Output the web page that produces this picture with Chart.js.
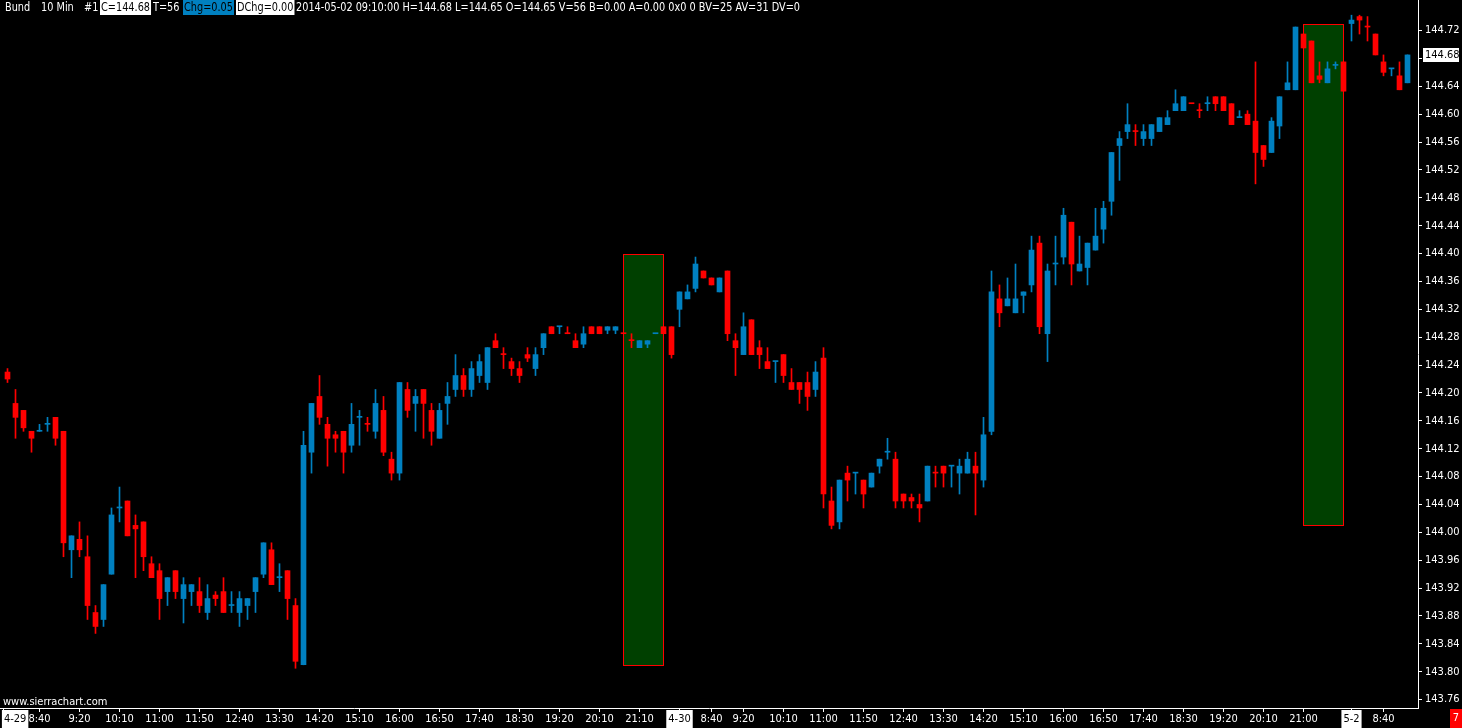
<!DOCTYPE html>
<html>
<head>
<meta charset="utf-8">
<title>Bund 10 Min</title>
<script src="https://cdn.jsdelivr.net/npm/chart.js@4.4.1/dist/chart.umd.min.js"></script>
<style>
  html, body { margin: 0; padding: 0; background: #000; overflow: hidden; }
</style>
</head>
<body>
<canvas id="chart_bund" width="1462" height="728"></canvas>
<script>
// 10 min bars, 4-29 08:00 .. 5-2 09:10 (bar index = position on the x axis)
const opens = [
  144.23, 144.185, 144.175, 144.145, 144.145, 144.155, 144.165, 144.145, 143.975, 143.99,
  143.965, 143.885, 143.875, 143.94, 144.035, 144.045, 144.01, 144.015, 143.955, 143.945,
  143.915, 143.945, 143.905, 143.915, 143.915, 143.885, 143.91, 143.915, 143.895, 143.885,
  143.895, 143.915, 143.94, 143.975, 143.935, 143.945, 143.895, 143.81, 144.115, 144.195,
  144.155, 144.14, 144.145, 144.125, 144.165, 144.155, 144.145, 144.175, 144.105, 144.085,
  144.205, 144.185, 144.205, 144.175, 144.135, 144.185, 144.205, 144.225, 144.205, 144.225,
  144.215, 144.275, 144.255, 144.245, 144.235, 144.255, 144.235, 144.265, 144.295, 144.295,
  144.285, 144.275, 144.27, 144.295, 144.295, 144.29, 144.29, 144.285, 144.275, 144.265,
  144.27, 144.285, 144.295, 144.295, 144.32, 144.335, 144.35, 144.375, 144.365, 144.345,
  144.375, 144.275, 144.255, 144.305, 144.265, 144.245, 144.245, 144.255, 144.215, 144.215,
  144.215, 144.205, 144.25, 144.045, 144.015, 144.085, 144.085, 144.075, 144.065, 144.095,
  144.115, 144.105, 144.055, 144.05, 144.04, 144.045, 144.085, 144.095, 144.095, 144.085,
  144.085, 144.095, 144.075, 144.145, 144.335, 144.325, 144.315, 144.34, 144.355, 144.415,
  144.285, 144.385, 144.395, 144.445, 144.375, 144.38, 144.405, 144.435, 144.475, 144.555,
  144.575, 144.575, 144.565, 144.565, 144.575, 144.585, 144.605, 144.605, 144.615, 144.605,
  144.615, 144.625, 144.625, 144.615, 144.595, 144.60, 144.59, 144.555, 144.545, 144.583,
  144.635, 144.635, 144.715, 144.705, 144.655, 144.645, 144.67, 144.675, 144.73, 144.74,
  144.725, 144.715, 144.675, 144.665, 144.655, 144.645
];
const highs = [
  144.235, 144.205, 144.175, 144.145, 144.155, 144.165, 144.165, 144.145, 143.995, 144.015,
  143.995, 143.895, 143.925, 144.035, 144.065, 144.045, 144.025, 144.015, 143.965, 143.955,
  143.935, 143.945, 143.935, 143.925, 143.935, 143.925, 143.915, 143.935, 143.915, 143.915,
  143.905, 143.935, 143.985, 143.985, 143.955, 143.945, 143.905, 144.145, 144.185, 144.225,
  144.165, 144.145, 144.145, 144.185, 144.175, 144.165, 144.205, 144.195, 144.115, 144.215,
  144.215, 144.205, 144.205, 144.185, 144.185, 144.215, 144.255, 144.235, 144.245, 144.255,
  144.265, 144.285, 144.265, 144.25, 144.245, 144.265, 144.265, 144.285, 144.295, 144.295,
  144.295, 144.285, 144.295, 144.295, 144.295, 144.295, 144.295, 144.285, 144.285, 144.275,
  144.275, 144.285, 144.295, 144.295, 144.345, 144.355, 144.395, 144.375, 144.365, 144.365,
  144.375, 144.285, 144.315, 144.305, 144.275, 144.265, 144.245, 144.255, 144.235, 144.215,
  144.23, 144.245, 144.265, 144.065, 144.075, 144.095, 144.085, 144.075, 144.085, 144.105,
  144.135, 144.115, 144.055, 144.055, 144.055, 144.095, 144.095, 144.095, 144.095, 144.105,
  144.115, 144.115, 144.165, 144.375, 144.355, 144.365, 144.385, 144.345, 144.425, 144.425,
  144.385, 144.425, 144.465, 144.445, 144.425, 144.415, 144.465, 144.475, 144.545, 144.575,
  144.615, 144.585, 144.585, 144.585, 144.595, 144.605, 144.635, 144.625, 144.615, 144.615,
  144.625, 144.625, 144.625, 144.615, 144.605, 144.605, 144.675, 144.555, 144.595, 144.625,
  144.675, 144.725, 144.715, 144.705, 144.675, 144.675, 144.675, 144.675, 144.742, 144.742,
  144.74, 144.715, 144.685, 144.665, 144.675, 144.685
];
const lows = [
  144.215, 144.135, 144.145, 144.115, 144.145, 144.145, 144.125, 143.965, 143.935, 143.965,
  143.875, 143.855, 143.865, 143.94, 144.015, 143.995, 143.935, 143.945, 143.935, 143.875,
  143.895, 143.905, 143.87, 143.895, 143.885, 143.875, 143.895, 143.885, 143.885, 143.865,
  143.875, 143.885, 143.935, 143.925, 143.915, 143.875, 143.805, 143.81, 144.085, 144.155,
  144.095, 144.115, 144.085, 144.115, 144.125, 144.145, 144.135, 144.11, 144.075, 144.075,
  144.165, 144.145, 144.135, 144.125, 144.135, 144.155, 144.195, 144.195, 144.195, 144.215,
  144.205, 144.265, 144.235, 144.225, 144.215, 144.245, 144.225, 144.255, 144.285, 144.285,
  144.285, 144.265, 144.265, 144.285, 144.285, 144.285, 144.285, 144.285, 144.265, 144.265,
  144.265, 144.285, 144.285, 144.25, 144.295, 144.335, 144.345, 144.365, 144.355, 144.345,
  144.275, 144.225, 144.255, 144.255, 144.235, 144.235, 144.215, 144.215, 144.205, 144.185,
  144.175, 144.195, 144.035, 144.005, 144.005, 144.045, 144.055, 144.035, 144.065, 144.085,
  144.105, 144.035, 144.035, 144.035, 144.015, 144.045, 144.065, 144.065, 144.065, 144.055,
  144.085, 144.025, 144.065, 144.14, 144.295, 144.325, 144.315, 144.315, 144.345, 144.285,
  144.245, 144.355, 144.385, 144.355, 144.375, 144.355, 144.405, 144.415, 144.455, 144.505,
  144.565, 144.555, 144.555, 144.555, 144.575, 144.585, 144.605, 144.605, 144.615, 144.595,
  144.605, 144.605, 144.605, 144.585, 144.595, 144.585, 144.50, 144.525, 144.545, 144.565,
  144.635, 144.635, 144.695, 144.645, 144.645, 144.645, 144.665, 144.633, 144.705, 144.715,
  144.705, 144.685, 144.655, 144.655, 144.635, 144.645
];
const closes = [
  144.22, 144.165, 144.15, 144.135, 144.145, 144.155, 144.135, 143.985, 143.995, 143.975,
  143.895, 143.865, 143.925, 144.025, 144.035, 143.995, 144.005, 143.965, 143.935, 143.905,
  143.935, 143.915, 143.925, 143.925, 143.895, 143.905, 143.905, 143.885, 143.895, 143.905,
  143.905, 143.935, 143.985, 143.925, 143.935, 143.905, 143.815, 144.125, 144.185, 144.165,
  144.135, 144.135, 144.115, 144.155, 144.165, 144.155, 144.185, 144.115, 144.085, 144.215,
  144.175, 144.195, 144.185, 144.145, 144.175, 144.195, 144.225, 144.205, 144.235, 144.245,
  144.265, 144.265, 144.255, 144.235, 144.225, 144.25, 144.255, 144.285, 144.285, 144.295,
  144.285, 144.265, 144.285, 144.285, 144.285, 144.295, 144.295, 144.285, 144.275, 144.275,
  144.275, 144.285, 144.285, 144.255, 144.345, 144.345, 144.385, 144.365, 144.355, 144.365,
  144.285, 144.265, 144.295, 144.255, 144.255, 144.235, 144.245, 144.225, 144.205, 144.205,
  144.195, 144.23, 144.055, 144.01, 144.075, 144.075, 144.085, 144.055, 144.085, 144.105,
  144.115, 144.045, 144.045, 144.045, 144.035, 144.095, 144.085, 144.085, 144.095, 144.095,
  144.105, 144.085, 144.14, 144.345, 144.315, 144.335, 144.335, 144.345, 144.405, 144.295,
  144.375, 144.385, 144.455, 144.385, 144.385, 144.415, 144.425, 144.465, 144.545, 144.565,
  144.585, 144.575, 144.575, 144.585, 144.595, 144.595, 144.615, 144.625, 144.615, 144.605,
  144.615, 144.615, 144.605, 144.585, 144.595, 144.585, 144.545, 144.535, 144.59, 144.625,
  144.645, 144.725, 144.695, 144.645, 144.65, 144.665, 144.67, 144.633, 144.735, 144.735,
  144.725, 144.685, 144.66, 144.665, 144.635, 144.685
];

// x axis labels and the bar they sit under
const tickBars = [0, 4, 9, 14, 19, 24, 29, 34, 39, 44, 49, 54, 59, 64, 69, 74, 79,
  84, 88, 92, 97, 102, 107, 112, 117, 122, 127, 132, 137, 142, 147, 152, 157, 162,
  168, 172];
const tickTexts = ["4-29", "8:40", "9:20", "10:10", "11:00", "11:50", "12:40", "13:30",
  "14:20", "15:10", "16:00", "16:50", "17:40", "18:30", "19:20", "20:10", "21:10",
  "4-30", "8:40", "9:20", "10:10", "11:00", "11:50", "12:40", "13:30", "14:20",
  "15:10", "16:00", "16:50", "17:40", "18:30", "19:20", "20:10", "21:00",
  "5-2", "8:40"];
const priceTicks = [144.72, 144.68, 144.64, 144.60, 144.56, 144.52, 144.48, 144.44,
  144.40, 144.36, 144.32, 144.28, 144.24, 144.20, 144.16, 144.12, 144.08, 144.04,
  144.00, 143.96, 143.92, 143.88, 143.84, 143.80, 143.76];

// the two rectangle drawings (bar from/to, price top/bottom)
const boxFrom = [77, 162];
const boxTo = [82, 167];
const boxTop = [144.40, 144.73];
const boxBottom = [143.81, 144.01];

const lastPrice = "144.68";
const headerText = ["Bund", "10 Min", "#1", "C=144.68", "T=56", "Chg=0.05", "DChg=0.00",
  "2014-05-02 09:10:00 H=144.68 L=144.65 O=144.65 V=56 B=0.00 A=0.00 0x0 0 BV=25 AV=31 DV=0"];

const UP = "#0080c0";
const DOWN = "#ff0000";
const FONT = "'DejaVu Sans Condensed', 'Liberation Sans', sans-serif";
const X_END = 176.3125;

// candle colour: close vs open, dojis by close vs previous close
const candleColors = closes.map(function (c, i) {
  if (c > opens[i]) return UP;
  if (c < opens[i]) return DOWN;
  const prev = i > 0 ? closes[i - 1] : c;
  return c >= prev ? UP : DOWN;
});

const bodyData = opens.map((o, i) => ({ x: i, y: [o, closes[i]] }));
const wickData = lows.map((l, i) => ({ x: i, y: [l, highs[i]] }));

const isDateTick = (i) => i < tickTexts.length && tickTexts[i].indexOf("-") > 0;

const drawings = {
  id: "drawings",
  beforeDatasetsDraw(chart) {
    const { ctx, scales } = chart;
    ctx.save();
    boxFrom.forEach(function (b, k) {
      const l = Math.floor(scales.x.getPixelForValue(b));
      const r = Math.floor(scales.x.getPixelForValue(boxTo[k]));
      const t = Math.round(scales.y.getPixelForValue(boxTop[k]));
      const btm = Math.round(scales.y.getPixelForValue(boxBottom[k]));
      ctx.fillStyle = "#004000";
      ctx.fillRect(l, t, r - l, btm - t);
      ctx.strokeStyle = "#ff0000";
      ctx.lineWidth = 1;
      ctx.strokeRect(l + 0.5, t + 0.5, r - l, btm - t);
    });
    ctx.restore();
  },
  afterDraw(chart) {
    const { ctx, scales } = chart;
    ctx.save();
    // header line; the original uses a narrow font, so squeeze the text a bit
    ctx.font = "13px " + FONT;
    ctx.textBaseline = "middle";
    const headerX = [5, 41, 84, 101, 153, 184, 237, 296];
    const last = headerText[headerText.length - 1];
    const sx = 504 / ctx.measureText(last).width;
    headerText.forEach(function (t, k) {
      const x = headerX[k];
      const w = ctx.measureText(t).width * sx;
      let fg = "#fff";
      if (k === 3 || k === 6) { ctx.fillStyle = "#fff"; ctx.fillRect(x - 1, 0, w + 2, 15); fg = "#000"; }
      if (k === 5) { ctx.fillStyle = UP; ctx.fillRect(x - 1, 0, w + 2, 15); fg = "#000"; }
      ctx.fillStyle = fg;
      ctx.save();
      ctx.translate(x, 8);
      ctx.scale(sx, 1);
      ctx.fillText(t, 0, 0);
      ctx.restore();
    });
    // watermark
    ctx.font = "11px " + FONT;
    ctx.fillStyle = "#fff";
    ctx.fillText("www.sierrachart.com", 3, 702);
    // last price marker
    const py = scales.y.getPixelForValue(closes[closes.length - 1]);
    ctx.fillStyle = "#fff";
    ctx.fillRect(1423, Math.round(py) - 7, 36, 14);
    ctx.fillStyle = "#000";
    ctx.fillText(lastPrice, 1425, py);
    // bar countdown box
    ctx.fillStyle = "#ff0000";
    ctx.fillRect(1450, 709, 12, 19);
    ctx.fillStyle = "#fff";
    ctx.textAlign = "center";
    ctx.fillText("7", 1456, 718);
    ctx.restore();
  }
};

const chart_bund = new Chart(document.getElementById("chart_bund"), {
  type: "bar",
  data: {
    datasets: [
      {
        label: "body",
        data: bodyData,
        backgroundColor: (c) => candleColors[c.dataIndex],
        barThickness: 5,
        minBarLength: 1,
        grouped: false,
        borderWidth: 0,
      },
      {
        label: "wick",
        data: wickData,
        backgroundColor: (c) => candleColors[c.dataIndex],
        barThickness: 1,
        grouped: false,
        borderWidth: 0,
      },
    ],
  },
  options: {
    responsive: false,
    animation: false,
    events: [],
    layout: { padding: 0 },
    plugins: {
      legend: { display: false },
      tooltip: { enabled: false },
    },
    scales: {
      x: {
        type: "linear",
        offset: false,
        min: -0.9375,
        max: X_END,
        afterBuildTicks: (axis) => {
          // the first date label is pinned to the left edge, as in Sierra Chart
          axis.ticks = tickBars
            .map((v, i) => ({ value: i === 0 ? v - 0.45 : v }))
            .concat([{ value: X_END }]);
        },
        afterFit: (axis) => {
          axis.height = 20;
          axis.paddingLeft = 0;
          axis.paddingRight = 0;
        },
        ticks: {
          autoSkip: false,
          maxRotation: 0,
          align: "inner",
          padding: 1,
          font: { family: FONT, size: 11 },
          color: (c) => (isDateTick(c.index) ? "#000" : "#fff"),
          showLabelBackdrop: (c) => isDateTick(c.index),
          backdropColor: "#fff",
          backdropPadding: { x: 2, y: 3 },
          callback: (v, i) => (i < tickTexts.length ? tickTexts[i] : ""),
        },
        grid: {
          offset: false,
          drawOnChartArea: false,
          tickLength: 4,
          color: (c) => (c.index < tickTexts.length ? "#fff" : "rgba(0,0,0,0)"),
        },
        border: { display: true, color: "#fff" },
      },
      y: {
        position: "right",
        min: 143.748,
        max: 144.7638,
        afterBuildTicks: (axis) => {
          axis.ticks = priceTicks.map((v) => ({ value: v }));
        },
        afterFit: (axis) => {
          axis.width = 44;
          axis.paddingTop = 0;
          axis.paddingBottom = 0;
        },
        ticks: {
          padding: 3,
          font: { family: FONT, size: 11 },
          color: (c) => (c.tick && c.tick.value.toFixed(2) === lastPrice ? "rgba(0,0,0,0)" : "#fff"),
          callback: (v) => v.toFixed(2),
        },
        grid: { drawOnChartArea: false, tickLength: 4, color: "#fff" },
        border: { display: true, color: "#fff" },
      },
    },
  },
  plugins: [drawings],
});
</script>
</body>
</html>
